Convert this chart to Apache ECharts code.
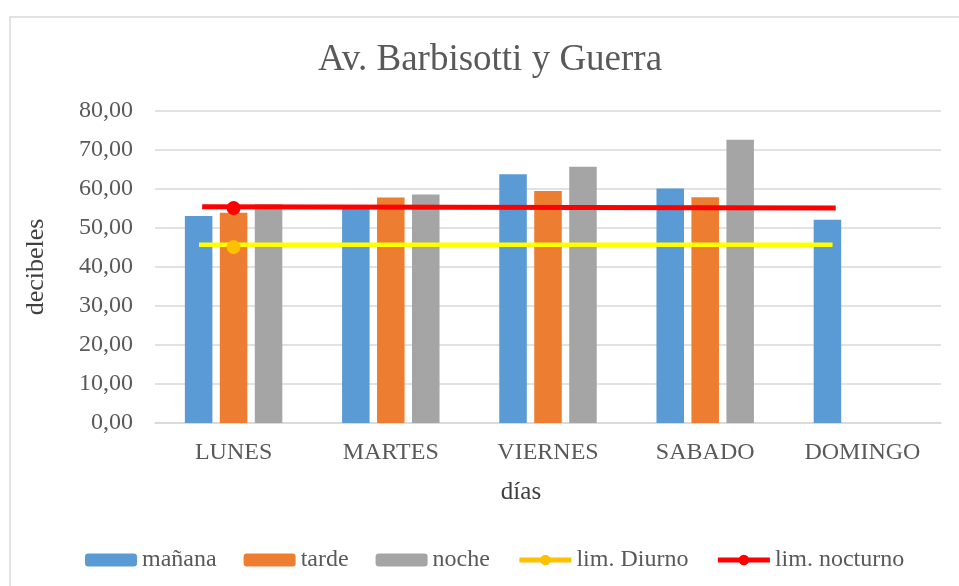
<!DOCTYPE html>
<html>
<head>
<meta charset="utf-8">
<script src="https://cdn.jsdelivr.net/npm/echarts@6/dist/echarts.min.js"></script>
<style>html,body{margin:0;padding:0;background:#fff}#c{width:959px;height:586px}</style>
</head>
<body>
<div id="c"></div>
<script>
const categories = ['LUNES', 'MARTES', 'VIERNES', 'SABADO', 'DOMINGO'];
const manana = [53.1, 55.2, 63.8, 60.1, 52.1];
const tarde = [53.9, 57.8, 59.5, 57.9, null];
const noche = [56.1, 58.6, 65.7, 72.6, null];
const limDiurno = [45.1, null, null, null, null];
const limNocturno = [55.1, null, null, null, null];
// hand-drawn limit lines (x in category units along the axis, y in dB)
const diurnoLineX = [0.28, 4.31];
const diurnoLineY = [45.7, 45.7];
const nocturnoLineX = [0.30, 4.33];
const nocturnoLineY = [55.45, 55.13];
const yTicks = [0, 10, 20, 30, 40, 50, 60, 70, 80];

const font = 'Liberation Serif';
const chart = echarts.init(document.getElementById('c'), null, {renderer: 'canvas'});
chart.setOption({
  animation: false,
  backgroundColor: '#fff',
  graphic: [{
    type: 'rect', left: 7.5, top: 14.5, silent: true,
    shape: {x: 0, y: 0, width: 1000, height: 1000},
    style: {fill: 'none', stroke: '#d9d9d9', lineWidth: 1.5}
  }],
  title: {
    text: 'Av. Barbisotti y Guerra',
    left: 485, top: 37, textAlign: 'center',
    textStyle: {fontFamily: font, fontSize: 37, fontWeight: 'normal', color: '#595959'}
  },
  legend: {
    left: 80, top: 543,
    itemWidth: 52, itemHeight: 13, itemGap: 27,
    textStyle: {fontFamily: font, fontSize: 24, color: '#595959'},
    lineStyle: {width: 5},
    data: ['mañana', 'tarde', 'noche', 'lim. Diurno', 'lim. nocturno']
  },
  grid: {left: 155, right: 18, top: 111, bottom: 163},
  xAxis: [{
    type: 'category', data: categories,
    name: 'días', nameLocation: 'middle', nameGap: 57,
    nameTextStyle: {fontFamily: font, fontSize: 25, color: '#404040', padding: [0, 54, 0, 0]},
    axisLine: {lineStyle: {color: '#d9d9d9', width: 1.5}},
    axisTick: {show: false},
    axisLabel: {fontFamily: font, fontSize: 24, color: '#595959', margin: 18}
  }, {
    type: 'value', min: 0, max: 5, show: false
  }],
  yAxis: {
    type: 'value', min: 0, max: 80, interval: 10,
    name: 'decibeles', nameLocation: 'middle', nameGap: 106,
    nameTextStyle: {fontFamily: font, fontSize: 26, color: '#404040'},
    axisLine: {show: false}, axisTick: {show: false},
    splitLine: {lineStyle: {color: '#d9d9d9', width: 1.5}},
    axisLabel: {
      fontFamily: font, fontSize: 24, color: '#595959', margin: 22,
      formatter: v => yTicks.includes(v) ? v.toFixed(2).replace('.', ',') : ''
    }
  },
  series: [
    {name: 'mañana', type: 'bar', data: manana, barGap: '27%', barCategoryGap: '38%', itemStyle: {color: '#5B9BD5'}},
    {name: 'tarde', type: 'bar', data: tarde, itemStyle: {color: '#ED7D31'}},
    {name: 'noche', type: 'bar', data: noche, itemStyle: {color: '#A5A5A5'}},
    {name: 'diurnoDraw', type: 'line', xAxisIndex: 1, symbol: 'none',
     data: diurnoLineX.map((x, i) => [x, diurnoLineY[i]]),
     lineStyle: {color: '#FFFF00', width: 4.5}, z: 3},
    {name: 'nocturnoDraw', type: 'line', xAxisIndex: 1, symbol: 'none',
     data: nocturnoLineX.map((x, i) => [x, nocturnoLineY[i]]),
     lineStyle: {color: '#FF0000', width: 5}, z: 3},
    {name: 'lim. Diurno', type: 'line', data: limDiurno, symbol: 'circle', symbolSize: 14,
     lineStyle: {color: '#FFC000', width: 5}, itemStyle: {color: '#FFC000'}, z: 4},
    {name: 'lim. nocturno', type: 'line', data: limNocturno, symbol: 'circle', symbolSize: 14,
     lineStyle: {color: '#FF0000', width: 5}, itemStyle: {color: '#FF0000'}, z: 4}
  ]
});
</script>
</body>
</html>
